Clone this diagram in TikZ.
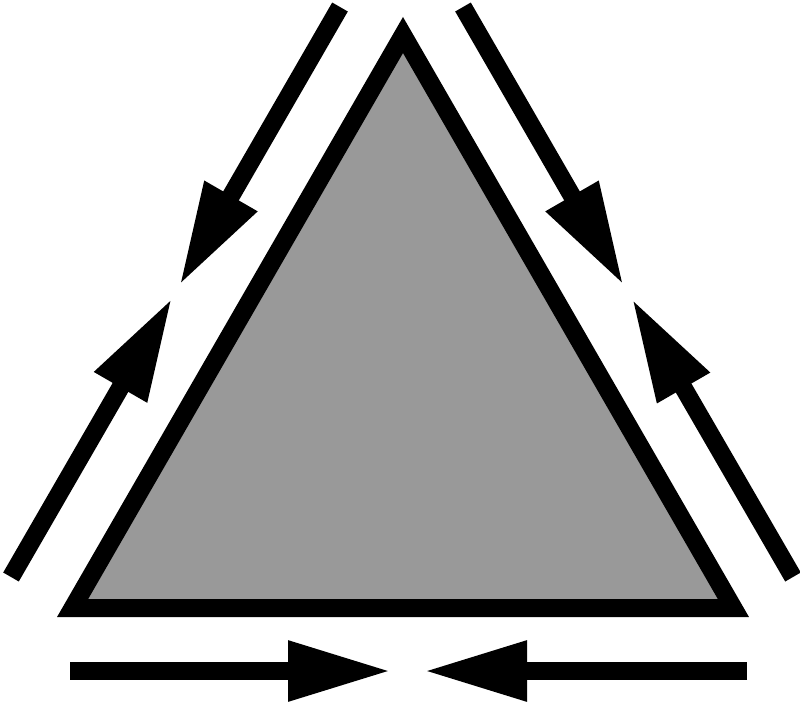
\documentclass[tikz,border=0pt]{standalone}
\usetikzlibrary{arrows.meta}
\definecolor{trifill}{RGB}{153,153,153}
\begin{document}
\begin{tikzpicture}[x=0.75pt,y=-0.75pt,
  tri/.style={draw=black, fill=trifill, line width=13.5pt, line join=miter},
  flow/.style={draw=black, line width=13.5pt, line cap=butt,
    -{Triangle[length=78pt,width=42pt]}}]
\fill[white] (0,0) rectangle (800,701);
\useasboundingbox (0,0) rectangle (800,701);
% triangle corners (stroke centre line)
\coordinate (A) at (403,35);
\coordinate (B) at (72.6,608);
\coordinate (C) at (733.4,608);
\draw[tri] (A) -- (B) -- (C) -- cycle;
% left side arrows
\coordinate (L1tail) at (340,7);
\coordinate (L1tip)  at (179,286);
\coordinate (L2tail) at (11,577);
\coordinate (L2tip)  at (172.5,297.3);
\draw[flow] (L1tail) -- (L1tip);
\draw[flow] (L2tail) -- (L2tip);
% right side arrows
\coordinate (R1tail) at (463,7);
\coordinate (R1tip)  at (624,286);
\coordinate (R2tail) at (793,577);
\coordinate (R2tip)  at (631.5,298);
\draw[flow] (R1tail) -- (R1tip);
\draw[flow] (R2tail) -- (R2tip);
% bottom arrows
\coordinate (B1tail) at (70,671);
\coordinate (B1tip)  at (392,671);
\coordinate (B2tail) at (747,671);
\coordinate (B2tip)  at (423,671);
\draw[flow] (B1tail) -- (B1tip);
\draw[flow] (B2tail) -- (B2tip);
\end{tikzpicture}
\end{document}
